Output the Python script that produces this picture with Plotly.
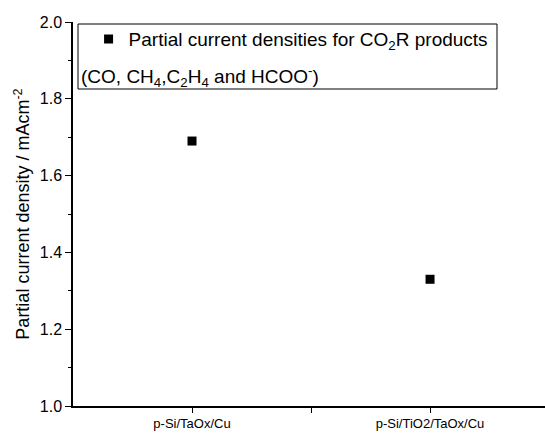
import plotly.graph_objects as go

# Samples and their partial current densities (mA cm^-2)
samples = ["p-Si/TaOx/Cu", "p-Si/TiO2/TaOx/Cu"]
density = [1.69, 1.33]
y_ticks = [1.0, 1.2, 1.4, 1.6, 1.8, 2.0]

FONT = "Liberation Sans, Arial, sans-serif"

fig = go.Figure()
fig.add_trace(go.Scatter(
    x=list(range(len(samples))), y=density, mode="markers",
    marker=dict(symbol="square", size=9, color="black"),
    name="Partial current densities for CO<sub>2</sub>R products",
    showlegend=True,
))

fig.update_layout(
    width=545, height=435,
    margin=dict(l=73, r=0, t=22, b=29),
    paper_bgcolor="white", plot_bgcolor="white",
    font=dict(family=FONT, color="black"),
    showlegend=True,
    legend=dict(x=0.033, y=1.005, xanchor="left", yanchor="top",
                bgcolor="rgba(0,0,0,0)", borderwidth=0,
                font=dict(size=19, family=FONT), itemwidth=30,
                tracegroupgap=0),
    xaxis=dict(
        range=[-0.5, 1.483], tickvals=[0, 1], ticktext=samples,
        showline=True, linecolor="black", linewidth=1.5,
        ticks="outside", ticklen=5, tickwidth=1.2, tickcolor="black",
        minor=dict(tickvals=[0.5], ticks="outside", ticklen=5, tickwidth=1.2, tickcolor="black"),
        showgrid=False, zeroline=False, tickfont=dict(size=13),
    ),
    yaxis=dict(
        range=[1.0, 2.0], tickvals=y_ticks, tickformat=".1f",
        showline=True, linecolor="black", linewidth=1.5,
        ticks="outside", ticklen=6, tickwidth=1.2, tickcolor="black",
        minor=dict(dtick=0.1, ticks="outside", ticklen=3, tickwidth=1.2, tickcolor="black"),
        showgrid=False, zeroline=False, tickfont=dict(size=16),
        title=dict(text="Partial current density / mAcm<sup>-2</sup>",
                   font=dict(size=18), standoff=5),
    ),
)

# Legend frame and second line of the legend entry
fig.add_shape(type="rect", xref="paper", yref="paper",
              x0=5 / 472, x1=424 / 472, y0=1 - 67 / 384, y1=1 - 2 / 384,
              line=dict(color="black", width=1), fillcolor="rgba(0,0,0,0)")
fig.add_annotation(xref="paper", yref="paper", x=6 / 472, y=1 - 54 / 384,
                   xanchor="left", yanchor="middle", showarrow=False,
                   text="(CO, CH<sub>4</sub>,C<sub>2</sub>H<sub>4</sub> and HCOO<sup>-</sup>)",
                   font=dict(size=19, family=FONT))

fig.write_html("out.html")
